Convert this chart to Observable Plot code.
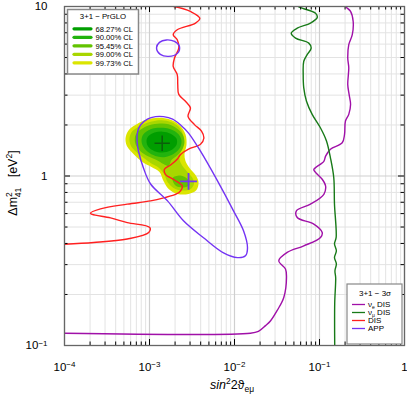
<!DOCTYPE html>
<html><head><meta charset="utf-8">
<script src="https://cdn.jsdelivr.net/npm/d3@7"></script>
<script src="https://cdn.jsdelivr.net/npm/@observablehq/plot@0.6"></script>
<style>
body{margin:0;background:#fff}
svg{font-family:"Liberation Sans",Arial,sans-serif}
</style>
</head><body><div id="chart"></div>
<script>
// ---------- data ----------
const xMajor = [1e-4, 1e-3, 1e-2, 1e-1, 1];
const xTickLabels = ["10^−4", "10^−3", "10^−2", "10^−1", "1"];
const yMajor = [0.1, 1, 10];
const yTickLabels = ["10^−1", "1", "10"];
const xMinor = [2e-4,3e-4,4e-4,5e-4,6e-4,7e-4,8e-4,9e-4,2e-3,3e-3,4e-3,5e-3,6e-3,7e-3,8e-3,9e-3,
                2e-2,3e-2,4e-2,5e-2,6e-2,7e-2,8e-2,9e-2,0.2,0.3,0.4,0.5,0.6,0.7,0.8,0.9];
const yMinor = [0.2,0.3,0.4,0.5,0.6,0.7,0.8,0.9,2,3,4,5,6,7,8,9];

const levelLabels = ["68.27% CL", "90.00% CL", "95.45% CL", "99.00% CL", "99.73% CL"];
const levelColors = ["#009e00", "#22b30e", "#62c300", "#a8d600", "#dbe500"];

// PrGLO allowed regions (sin^2 2theta_emu, dm2_41)
const c68 = [[0.000973,1.719],[0.001145,1.803],[0.001422,1.827],[0.00177,1.778],[0.002078,1.662],[0.002078,1.522],
  [0.00177,1.413],[0.001422,1.375],[0.001145,1.40],[0.000973,1.481],[0.000922,1.61]];
const c90 = [[0.000849,1.766],[0.00103,1.890],[0.00134,1.929],[0.00177,1.890],[0.002194,1.766],[0.002379,1.61],
  [0.00225,1.451],[0.001917,1.347],[0.00154,1.294],[0.001242,1.302],[0.001,1.366],[0.000849,1.481],[0.000805,1.628]];
const c95 = [[0.000723,1.815],[0.000922,1.969],[0.001242,2.036],[0.00168,2.023],[0.002078,1.916],[0.002445,1.766],
  [0.00258,1.585],[0.002412,1.422],[0.002078,1.311],[0.001815,1.242],[0.00168,1.145],[0.00146,1.176],[0.00121,1.242],
  [0.000946,1.311],[0.000783,1.40],[0.000684,1.543],[0.000675,1.696]];
const c95b = [[0.00187,0.973],[0.00232,1.007],[0.0028,0.960],[0.002955,0.885],[0.00251,0.856],[0.002022,0.879]];
const c99 = [[0.000631,1.84],[0.000783,1.982],[0.00103,2.092],[0.001384,2.135],[0.001815,2.078],[0.002194,1.956],
  [0.002477,1.766],[0.00251,1.543],[0.00232,1.384],[0.00225,1.259],[0.002445,1.145],[0.0028,1.056],[0.003206,0.973],
  [0.003338,0.897],[0.002996,0.833],[0.002379,0.822],[0.001917,0.850],[0.00163,0.922],[0.001481,1.028],[0.001276,1.122],
  [0.00103,1.192],[0.000827,1.294],[0.000684,1.40],[0.000598,1.522],[0.000582,1.673]];
const c997 = [[0.000582,1.890],[0.000723,2.036],[0.000922,2.150],[0.001276,2.208],[0.00177,2.150],[0.00225,2.0],
  [0.00265,1.766],[0.002724,1.522],[0.00258,1.347],[0.00265,1.225],[0.002955,1.114],[0.00348,1.014],[0.003771,0.922],
  [0.00357,0.827],[0.00288,0.784],[0.00213,0.784],[0.00168,0.839],[0.00146,0.935],[0.00131,1.056],[0.001056,1.129],
  [0.000827,1.209],[0.000666,1.329],[0.000551,1.481],[0.000522,1.628],[0.000536,1.766]];

// 3 sigma curves
const nueDIS = [[0.205,10],[0.208,9.87],[0.232,9.35],[0.249,8.16],[0.243,6.82],[0.221,5.95],[0.215,4.97],[0.221,4.34],
  [0.215,3.46],[0.223,3.03],[0.232,2.64],[0.221,2.31],[0.202,2.11],[0.197,1.76],[0.185,1.57],[0.1345,1.44],[0.118,1.31],
  [0.1125,1.22],[0.0857,1.09],[0.0898,1.05],[0.1076,0.957],[0.118,0.873],[0.1125,0.78],[0.0783,0.682],[0.0535,0.623],
  [0.0547,0.569],[0.0857,0.52],[0.1076,0.464],[0.1028,0.434],[0.0653,0.387],[0.0417,0.354],[0.0332,0.316],[0.0398,0.283],
  [0.0409,0.252],[0.038,0.192],[0.0318,0.161],[0.0266,0.14],[0.0232,0.131],[0.0191,0.121],[0.0154,0.118],[0.0001,0.118]];
const numuDIS = [[0.056,10],[0.0586,9.87],[0.0898,9.13],[0.094,8.61],[0.0783,7.98],[0.0547,7.45],[0.0465,6.96],[0.0523,6.51],
  [0.0748,6.08],[0.0798,5.68],[0.0716,5.2],[0.0653,4.75],[0.0643,3.96],[0.0653,3.31],[0.0703,2.76],[0.082,2.31],[0.1028,1.92],
  [0.1208,1.61],[0.1345,1.28],[0.1472,0.977],[0.15,0.684],[0.157,0.434],[0.15,0.398],[0.158,0.362],[0.15,0.33],[0.158,0.303],
  [0.152,0.276],[0.155,0.251],[0.151,0.177],[0.151,0.1]];
const allDIS = [[0.00193,10],[0.00244,9.73],[0.00303,9.35],[0.00391,8.53],[0.00348,7.98],[0.00212,7.29],[0.0019,6.82],
  [0.00212,6.37],[0.00221,5.68],[0.00197,4.97],[0.0019,4.43],[0.00212,3.96],[0.00215,3.46],[0.00221,3.03],[0.00265,2.76],
  [0.00303,2.52],[0.00284,2.25],[0.00338,2.01],[0.00409,1.84],[0.00436,1.67],[0.00398,1.54],[0.00288,1.44],[0.00232,1.34],
  [0.00213,1.26],[0.00177,1.16],[0.0015,1.095],[0.00154,1.023],[0.00197,0.947],[0.00243,0.873],[0.00232,0.817],
  [0.00208,0.784],[0.00147,0.743],[0.00103,0.713],[0.000547,0.682],[0.000265,0.64],[0.000202,0.604],[0.000212,0.594],
  [0.000348,0.566],[0.000547,0.531],[0.00101,0.496],[0.00098,0.464],[0.000547,0.425],[0.000221,0.405],[0.0001,0.396]];
const appMain = [[0.000723,1.815],[0.000783,2.0],[0.000946,2.165],[0.00118,2.24],[0.00146,2.24],[0.00187,2.165],[0.00232,2.0],
  [0.00288,1.79],[0.00398,1.40],[0.00631,0.935],[0.00973,0.623],[0.01277,0.475],[0.01422,0.377],[0.01345,0.338],[0.01084,0.33],
  [0.00743,0.352],[0.00432,0.432],[0.00251,0.544],[0.00163,0.713],[0.00103,0.897],[0.000849,1.114],[0.000743,1.40],[0.000713,1.61]];
const appIsland = [[0.00121,5.70],[0.00131,6.14],[0.00158,6.35],[0.00197,6.22],[0.00225,5.82],[0.00213,5.29],[0.00168,5.08],[0.00134,5.22]];

const bestFitGlobal = [[0.00141,1.56]];
const bestFitApp = [[0.00288,0.93]];

const seriesLabels = ["νe DIS", "νμ DIS", "DIS", "APP"];
const seriesColors = ["#a010a8", "#187a18", "#ff2020", "#7434f4"];

// ---------- plot ----------
const W = 407, H = 400, mL = 64, mR = 3, mT = 6, mB = 55;
const pW = W - mL - mR, pH = H - mT - mB;
const xLab = new Map(xMajor.map((d, i) => [d, xTickLabels[i]]));
const yLab = new Map(yMajor.map((d, i) => [d, yTickLabels[i]]));
const P = {x: d => d[0], y: d => d[1]};

const poly = (data, color) => Plot.line(data, {...P, fill: color, stroke: "none", curve: "catmull-rom-closed"});
const curve = (data, color, extra = {}) => Plot.line(data, {...P, stroke: color, strokeWidth: 1.4, curve: "catmull-rom", clip: true, ...extra});

const chart = Plot.plot({
  width: W, height: H,
  marginLeft: mL, marginRight: mR, marginTop: mT, marginBottom: mB,
  style: {background: "#fff", color: "#000", fontFamily: "Liberation Sans, Arial, sans-serif"},
  x: {type: "log", domain: [1e-4, 1], axis: null},
  y: {type: "log", domain: [0.1, 10], axis: null},
  marks: [
    Plot.ruleX(xMinor, {stroke: "#e3e3e3", strokeWidth: 1}),
    Plot.ruleY(yMinor, {stroke: "#e3e3e3", strokeWidth: 1}),
    Plot.ruleX(xMajor, {stroke: "#cfcfcf", strokeWidth: 1.2}),
    Plot.ruleY(yMajor, {stroke: "#cfcfcf", strokeWidth: 1.2}),
    poly(c997, levelColors[4]),
    poly(c99, levelColors[3]),
    poly(c95, levelColors[2]),
    poly(c95b, levelColors[2]),
    poly(c90, levelColors[1]),
    poly(c68, levelColors[0]),
    curve(nueDIS, seriesColors[0]),
    curve(numuDIS, seriesColors[1]),
    curve(allDIS, seriesColors[2]),
    curve(appMain, seriesColors[3], {curve: "catmull-rom-closed"}),
    curve(appIsland, seriesColors[3], {curve: "catmull-rom-closed"}),
    Plot.dot(bestFitGlobal, {...P, symbol: "plus", r: 5, stroke: "#0b5e0b", strokeWidth: 1.5}),
    Plot.dot(bestFitApp, {...P, symbol: "plus", r: 5.5, stroke: "#7434f4", strokeWidth: 1.8}),
    // inward ticks on all four sides
    Plot.tickX(xMajor, {x: d => d, insetTop: pH - 6, stroke: "#000"}),
    Plot.tickX(xMinor, {x: d => d, insetTop: pH - 3.5, stroke: "#000"}),
    Plot.tickX(xMajor, {x: d => d, insetBottom: pH - 6, stroke: "#000"}),
    Plot.tickX(xMinor, {x: d => d, insetBottom: pH - 3.5, stroke: "#000"}),
    Plot.tickY(yMajor, {y: d => d, insetRight: pW - 6, stroke: "#000"}),
    Plot.tickY(yMinor, {y: d => d, insetRight: pW - 3.5, stroke: "#000"}),
    Plot.tickY(yMajor, {y: d => d, insetLeft: pW - 6, stroke: "#000"}),
    Plot.tickY(yMinor, {y: d => d, insetLeft: pW - 3.5, stroke: "#000"}),
    Plot.frame({stroke: "#666", strokeWidth: 1.3}),
    Plot.axisX(xMajor, {tickFormat: d => xLab.get(d), tickSize: 0, tickPadding: 17, fontSize: 11.5, label: null}),
    Plot.axisY(yMajor, {tickFormat: d => yLab.get(d), tickSize: 0, tickPadding: 17, fontSize: 11.5, label: null})
  ]
});
document.getElementById("chart").appendChild(chart);

// superscripts in tick labels
const NS = "http://www.w3.org/2000/svg";
chart.querySelectorAll("text").forEach(t => {
  const s = t.textContent;
  if (s.includes("^") && t.children.length === 0) {
    const [b, e] = s.split("^");
    t.textContent = "";
    const t1 = document.createElementNS(NS, "tspan"); t1.textContent = b;
    const t2 = document.createElementNS(NS, "tspan"); t2.textContent = e;
    t2.setAttribute("dy", "-0.45em"); t2.setAttribute("font-size", "8");
    t.append(t1, t2);
  }
});

const svg = d3.select(chart);
const font = "Liberation Sans, Arial, sans-serif";

// axis titles
const xt = svg.append("text").attr("x", 232).attr("y", 389).attr("text-anchor", "middle")
  .attr("font-size", 12.5).attr("font-family", font);
xt.append("tspan").attr("font-style", "italic").text("sin");
xt.append("tspan").attr("dy", -5).attr("font-size", 8.5).text("2");
xt.append("tspan").attr("dy", 5).text("2ϑ");
xt.append("tspan").attr("dy", 3).attr("font-size", 8.5).text("eμ");

const yt = svg.append("text").attr("transform", "translate(16.5,183) rotate(-90)").attr("text-anchor", "middle")
  .attr("font-size", 12.5).attr("font-family", font);
yt.append("tspan").text("Δm");
yt.append("tspan").attr("dy", -5).attr("font-size", 8.5).text("2");
yt.append("tspan").attr("dx", -5).attr("dy", 9).attr("font-size", 8.5).text("41");
yt.append("tspan").attr("dy", -4).text("\u00a0\u00a0\u00a0[eV");
yt.append("tspan").attr("dy", -5).attr("font-size", 8.5).text("2");
yt.append("tspan").attr("dy", 5).text("]");

// legend 1 : PrGLO confidence levels
const g1 = svg.append("g").attr("font-family", font).attr("text-anchor", "start");
g1.append("rect").attr("x", 67.5).attr("y", 9.5).attr("width", 71).attr("height", 64.5)
  .attr("fill", "#fff").attr("stroke", "#888").attr("stroke-width", 1.5);
g1.append("text").attr("x", 103).attr("y", 18.5).attr("text-anchor", "middle").attr("font-size", 7.8).text("3+1 − PrGLO");
levelLabels.forEach((lab, i) => {
  const y = 28.8 + i * 8.5;
  g1.append("line").attr("x1", 74).attr("x2", 91).attr("y1", y).attr("y2", y)
    .attr("stroke", levelColors[i]).attr("stroke-width", 3.2).attr("stroke-linecap", "round");
  g1.append("text").attr("x", 95.5).attr("y", y + 2.7).attr("text-anchor", "start").attr("font-size", 7.6).text(lab);
});

// legend 2 : 3 sigma curves
const g2 = svg.append("g").attr("font-family", font).attr("text-anchor", "start");
g2.append("rect").attr("x", 347).attr("y", 284).attr("width", 55).attr("height", 60)
  .attr("fill", "#fff").attr("stroke", "#888").attr("stroke-width", 1.2);
g2.append("text").attr("x", 375).attr("y", 296).attr("text-anchor", "middle").attr("font-size", 8).text("3+1 − 3σ");
seriesLabels.forEach((lab, i) => {
  const y = 304.5 + i * 8;
  g2.append("line").attr("x1", 352).attr("x2", 365).attr("y1", y).attr("y2", y)
    .attr("stroke", seriesColors[i]).attr("stroke-width", 1.3);
  const t = g2.append("text").attr("x", 368).attr("y", y + 2.7).attr("text-anchor", "start").attr("font-size", 8);
  if (lab.startsWith("ν")) {
    t.append("tspan").text("ν");
    t.append("tspan").attr("dy", 1.3).attr("font-size", 5).text(lab[1]);
    t.append("tspan").attr("dy", -1.3).text(lab.slice(2));
  } else t.text(lab);
});
</script>
</body></html>
